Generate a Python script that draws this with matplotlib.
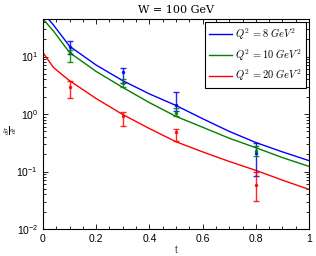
import matplotlib
matplotlib.use("Agg")
import matplotlib.pyplot as plt
from matplotlib.ticker import MultipleLocator, LogLocator, NullFormatter

plt.rcParams['mathtext.fontset'] = 'cm'
plt.rcParams['font.family'] = ['Liberation Sans', 'DejaVu Sans']

# model curves
t_curve = [0.0, 0.04, 0.1, 0.2, 0.3, 0.4, 0.5, 0.6, 0.7, 0.8, 0.9, 1.0]
blue_curve = [58, 35, 15.1, 7.1, 3.8, 2.24, 1.41, 0.83, 0.50, 0.32, 0.22, 0.155]
green_curve = [45, 27.5, 11.7, 5.5, 2.9, 1.58, 0.91, 0.59, 0.38, 0.26, 0.175, 0.123]
red_curve = [11.7, 6.4, 3.8, 1.86, 0.98, 0.56, 0.33, 0.22, 0.15, 0.105, 0.071, 0.049]

# data points
t_data = [0.1, 0.3, 0.5, 0.8]
blue_y = [14.5, 5.3, 1.46, 0.21]
blue_lo = [11.2, 3.5, 1.12, 0.083]
blue_hi = [18.5, 6.2, 2.4, 0.315]
green_y = [11.5, 3.5, 1.05, 0.23]
green_lo = [8.1, 2.95, 0.91, 0.185]
green_hi = [12.9, 4.0, 1.25, 0.275]
red_y = [3.0, 0.91, 0.48, 0.058]
red_lo = [1.9, 0.63, 0.34, 0.031]
red_hi = [3.8, 1.09, 0.54, 0.1]

labels = [r'$Q^2\,=8\ GeV^2$', r'$Q^2\,=10\ GeV^2$', r'$Q^2\,=20\ GeV^2$']
colors = ['#0000ff', '#008000', '#ff0000']

fig = plt.figure(figsize=(3.16, 2.56), dpi=100)
ax = fig.add_axes([0.136, 0.105, 0.842, 0.821])

curves = [blue_curve, green_curve, red_curve]
pts = [(blue_y, blue_lo, blue_hi), (green_y, green_lo, green_hi), (red_y, red_lo, red_hi)]
for c, col, lab in zip(curves, colors, labels):
    ax.plot(t_curve, c, color=col, lw=1.0, label=lab)
for (y, lo, hi), col in zip(pts, colors):
    err = [[yy - l for yy, l in zip(y, lo)], [h - yy for yy, h in zip(y, hi)]]
    ax.errorbar(t_data, y, yerr=err, fmt='.', color=col, ms=3, lw=1.0,
                capsize=2, capthick=1.0, alpha=0.85)

ax.set_yscale('log')
ax.set_xlim(0, 1)
ax.set_ylim(0.01, 45)
ax.xaxis.set_major_locator(MultipleLocator(0.2))
ax.xaxis.set_minor_locator(MultipleLocator(0.05))
ax.yaxis.set_major_locator(LogLocator(base=10, numticks=10))
ax.yaxis.set_minor_locator(LogLocator(base=10, subs=range(2, 10), numticks=20))
ax.yaxis.set_minor_formatter(NullFormatter())
ax.xaxis.set_major_formatter(matplotlib.ticker.FuncFormatter(lambda v, p: ('%g' % v)))
ax.tick_params(which='both', direction='in', top=True, right=True, labelsize=7.5, width=0.6)
ax.tick_params(which='major', length=3.5)
ax.tick_params(which='minor', length=2)
for s in ax.spines.values():
    s.set_linewidth(0.8)

ax.set_title('W = 100 GeV', fontsize=8, family='DejaVu Serif', pad=4)
ax.set_xlabel('t', fontsize=7, labelpad=1, color='#444444')
ax.set_ylabel(r'$\frac{d\sigma}{dt}$', fontsize=7, rotation=90)
ax.yaxis.set_label_coords(-0.085, 0.47)

leg = ax.legend(loc='upper right', fontsize=7.5, frameon=True, fancybox=False,
                edgecolor='black', framealpha=1, borderaxespad=0.3,
                handlelength=2.2, handletextpad=0.3, borderpad=0.4, labelspacing=0.5)
leg.get_frame().set_linewidth(0.8)

fig.savefig('out.png', dpi=100)
